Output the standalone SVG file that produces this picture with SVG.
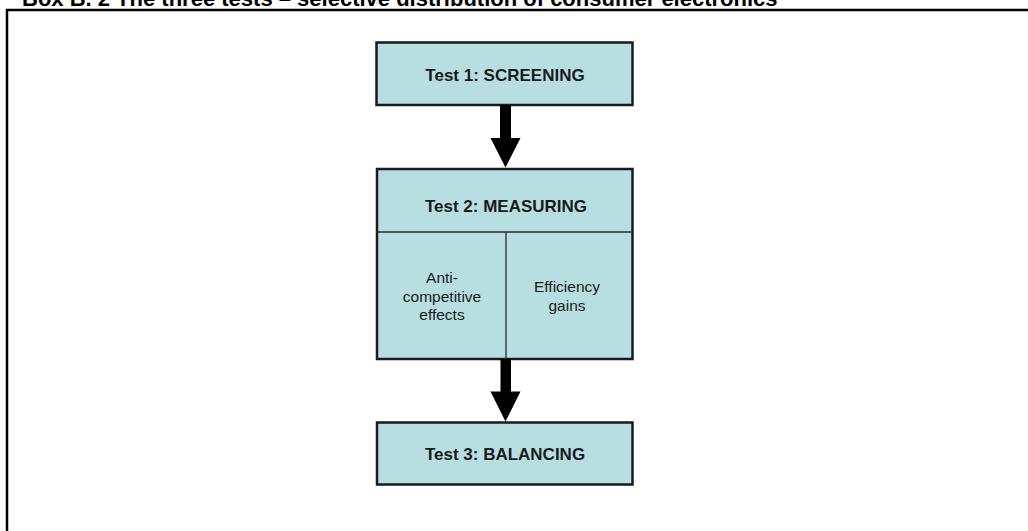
<svg xmlns="http://www.w3.org/2000/svg" width="1028" height="531" viewBox="0 0 1028 531">
  <style>
    .box { fill: #b7dfe2; stroke: #1a1a1a; stroke-width: 2.5; }
    .div { stroke: #2a2a2a; stroke-width: 1.3; fill: none; }
    .title { font-family: "Liberation Sans", Arial, sans-serif; font-size: 17px; font-weight: bold; fill: #1a1a1a; text-anchor: middle; }
    .sub { font-family: "Liberation Sans", Arial, sans-serif; font-size: 15.5px; fill: #1a1a1a; text-anchor: middle; }
    .arrow { fill: #000; }
    .caption { font-family: "Liberation Sans", Arial, sans-serif; font-size: 22px; font-weight: bold; fill: #000; }
  </style>
  <rect width="1028" height="531" fill="#ffffff"/>
  <text class="caption" x="22" y="5.5">Box B. 2 The three tests – selective distribution of consumer electronics</text>
  <path d="M7 540 V10 H1040" fill="none" stroke="#000" stroke-width="2.5"/>

  <g id="test1">
    <rect class="box" x="376.5" y="42.5" width="256" height="62.5"/>
    <text class="title" x="505" y="80.5">Test 1: SCREENING</text>
  </g>

  <g id="test2">
    <rect class="box" x="377" y="169" width="255.5" height="190"/>
    <line class="div" x1="377" y1="232" x2="632.5" y2="232"/>
    <line class="div" x1="506" y1="232" x2="506" y2="359"/>
    <text class="title" x="506" y="211.5">Test 2: MEASURING</text>
    <text class="sub" x="442" y="283">Anti-</text>
    <text class="sub" x="442" y="301.5">competitive</text>
    <text class="sub" x="442" y="319.5">effects</text>
    <text class="sub" x="567" y="292">Efficiency</text>
    <text class="sub" x="567" y="310.5">gains</text>
  </g>

  <g id="test3">
    <rect class="box" x="377" y="422.5" width="255.5" height="62"/>
    <text class="title" x="505" y="460">Test 3: BALANCING</text>
  </g>

  <g id="connectors">
    <path class="arrow" d="M500 105 H511 V138 H520.5 L505.5 167.5 L490.5 138 H500 Z"/>
    <path class="arrow" d="M500.5 359 H511 V391.5 H520.5 L505.5 421.5 L490.5 391.5 H500.5 Z"/>
  </g>
</svg>
